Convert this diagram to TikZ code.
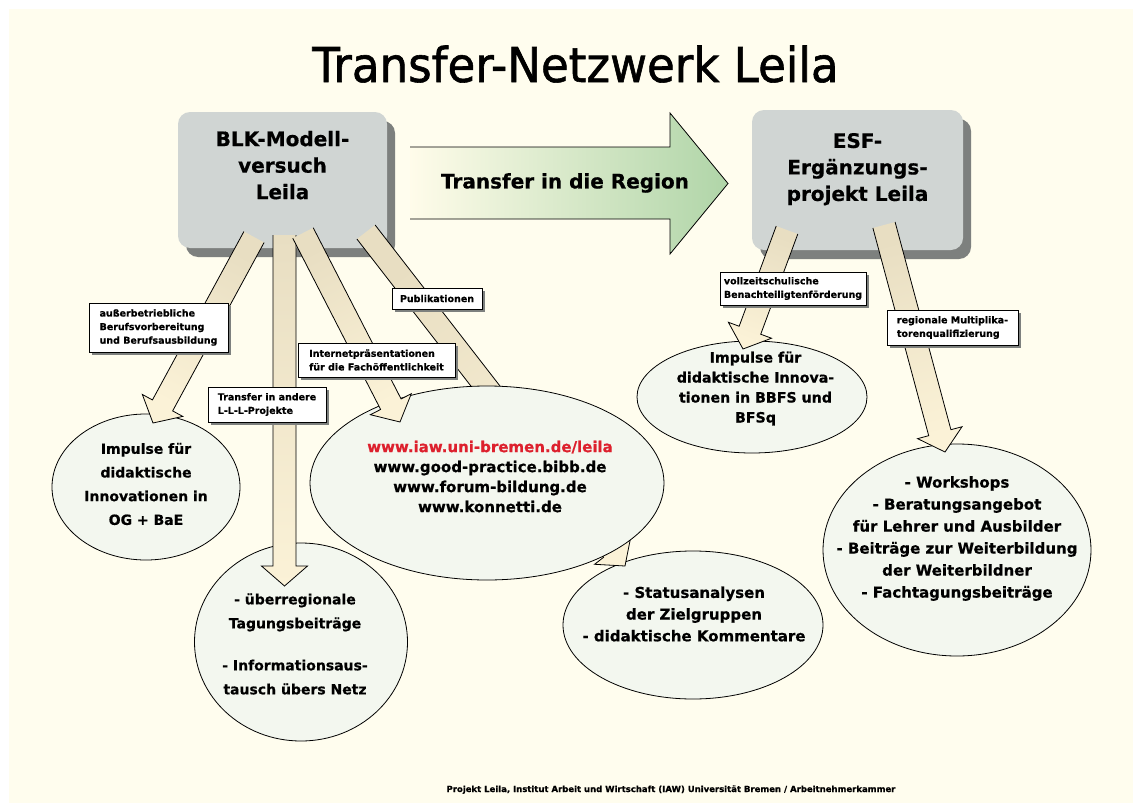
\documentclass[tikz,border=0pt]{standalone}
\usepackage{fontspec}
\setmainfont{DejaVu Sans}[BoldFeatures={FakeBold=0.6}]
\newfontfamily\titlefont{DejaVu Sans}[FakeStretch=0.94, FakeBold=1.2]
\usetikzlibrary{shapes,calc,shadows}
\definecolor{paper}{RGB}{255,253,238}
\definecolor{boxgray}{RGB}{208,213,211}
\definecolor{shadowgray}{RGB}{125,128,126}
\definecolor{blobfill}{RGB}{243,247,239}
\definecolor{fattail}{RGB}{232,222,194}
\definecolor{fattip}{RGB}{251,242,215}
\definecolor{transferleft}{RGB}{255,252,234}
\definecolor{transferright}{RGB}{176,213,168}
\definecolor{urlred}{RGB}{221,32,45}
\tikzstyle{block} = [rectangle, rounded corners=12pt, fill=boxgray, align=center,
font=\bfseries\fontsize{20}{26.5}\selectfont,
drop shadow={shadow xshift=8pt, shadow yshift=-9pt, fill=shadowgray, opacity=1}]
\tikzstyle{blob} = [ellipse, draw, fill=blobfill, line width=0.8pt, inner sep=0pt]
\tikzstyle{blobtext} = [align=center, inner sep=0pt, font=\bfseries\fontsize{15}{21}\selectfont]
\tikzstyle{tag} = [rectangle, draw, fill=white, line width=1pt, align=left, inner sep=2pt,
font=\bfseries\fontsize{9.5}{13.6}\selectfont,
drop shadow={shadow xshift=3pt, shadow yshift=-3pt, fill=shadowgray, opacity=1}]
\tikzstyle{fatfill} = [top color=fattip, bottom color=fattail]
\tikzstyle{fatline} = [draw, line width=0.8pt, line join=miter]
\newcommand{\shaftw}{11.5pt}
\newcommand{\headw}{23pt}
\newcommand{\headl}{20pt}
\newcommand{\fatarrow}[2]{%
  \pgfmathanglebetweenpoints{\pgfpointanchor{#1}{center}}{\pgfpointanchor{#2}{center}}%
  \pgfmathsetmacro{\fatangle}{\pgfmathresult-90}%
  \shade[fatfill, shading angle=\fatangle]
    ($(#1)!\shaftw!90:(#2)$) -- ($(#2)!\headl!(#1)!\shaftw!90:(#2)$) --
    ($(#2)!\headl!(#1)!\headw!90:(#2)$) -- (#2) --
    ($(#2)!\headl!(#1)!\headw!-90:(#2)$) -- ($(#2)!\headl!(#1)!\shaftw!-90:(#2)$) --
    ($(#1)!\shaftw!-90:(#2)$) -- cycle;
  \path[fatline]
    ($(#1)!\shaftw!90:(#2)$) -- ($(#2)!\headl!(#1)!\shaftw!90:(#2)$) --
    ($(#2)!\headl!(#1)!\headw!90:(#2)$) -- (#2) --
    ($(#2)!\headl!(#1)!\headw!-90:(#2)$) -- ($(#2)!\headl!(#1)!\shaftw!-90:(#2)$) --
    ($(#1)!\shaftw!-90:(#2)$);
}

\begin{document}
\begin{tikzpicture}[x=1pt, y=-1pt, font=\bfseries]
\useasboundingbox (0,0) rectangle (1133,803);
\fill[white] (0,0) rectangle (1133,803);
\fill[paper] (9,9) rectangle (1133,803);

% Place nodes
	\node [block, minimum width=209pt, minimum height=136pt, text depth=30pt] (blk) at (282.5,180) {BLK-Modell-\\versuch\\Leila};
	\node [block, minimum width=211pt, minimum height=140pt, text depth=26pt] (esf) at (857.5,180) {ESF-\\Ergänzungs-\\projekt Leila};
	\node [blob, minimum width=188pt, minimum height=146pt] (impOG)  at (146,487) {};
	\node [blob, minimum width=213pt, minimum height=198pt] (tagung) at (301,642) {};
	\node [blob, minimum width=260pt, minimum height=148pt] (status) at (693,625) {};
	\node [blob, minimum width=230pt, minimum height=112pt] (impBB)  at (752,397) {};
	\node [blob, minimum width=268pt, minimum height=212pt] (multi)  at (957,550) {};

% Draw edges
	\coordinate (pubS) at (366,232);   \coordinate (pubE) at (625,566);
	\coordinate (ogS) at (254,237);    \coordinate (ogE) at (153,423);
	\coordinate (lllS) at (284.5,235); \coordinate (lllE) at (284.5,586);
	\coordinate (netS) at (303,233);   \coordinate (netE) at (400,422);
	\coordinate (bbS) at (787,230);    \coordinate (bbE) at (743,349);
	\coordinate (multS) at (884,225);  \coordinate (multE) at (945,452);
	\fatarrow{pubS}{pubE}
	\node [blob, minimum width=354pt, minimum height=194pt] (web) at (487,483) {};
	\fatarrow{ogS}{ogE}
	\fatarrow{lllS}{lllE}
	\fatarrow{netS}{netE}
	\fatarrow{bbS}{bbE}
	\fatarrow{multS}{multE}

	\shade [left color=transferleft, right color=transferright] (410,147) -- (670,147) -- (670,113) -- (728,183.5) -- (670,254) -- (670,219) -- (410,219) -- cycle;
	\draw [line width=0.8pt] (410,147) -- (670,147) -- (670,113) -- (728,183.5) -- (670,254) -- (670,219) -- (410,219);
	\node [font=\bfseries\fontsize{20}{24}\selectfont] (transfer) at (565,183) {Transfer in die Region};

% Texts in the ellipses
	\node [blobtext, font=\bfseries\fontsize{14}{23.7}\selectfont] (impOGt) at (146,484) {Impulse für\\didaktische\\Innovationen in\\OG + BaE};
	\node [blobtext, font=\bfseries\fontsize{14}{24}\selectfont] (tagungt) at (295,644) {- überregionale\\Tagungsbeiträge\\[18pt]- Informationsaus-\\tausch übers Netz};
	\node [blobtext, font=\bfseries\fontsize{15}{20}\selectfont] (webt) at (490,476.5) {\textcolor{urlred}{www.iaw.uni-bremen.de/leila}\\www.good-practice.bibb.de\\www.forum-bildung.de\\www.konnetti.de};
	\node [blobtext, font=\bfseries\fontsize{15}{21.7}\selectfont] (statust) at (694,614) {- Statusanalysen\\der Zielgruppen\\- didaktische Kommentare};
	\node [blobtext, font=\bfseries\fontsize{14.2}{20}\selectfont] (impBBt) at (755.5,388.5) {Impulse für\\didaktische Innova-\\tionen in BBFS und\\BFSq};
	\node [blobtext, font=\bfseries\fontsize{15}{22}\selectfont] (multit) at (957,538.5) {- Workshops\\- Beratungsangebot\\für Lehrer und Ausbilder\\- Beiträge zur Weiterbildung\\der Weiterbildner\\- Fachtagungsbeiträge};

% Labels on the arrows
	\node [tag, minimum width=139pt, minimum height=49pt] (ogTag)   at (158.5,327.5) {außerbetriebliche\\Berufsvorbereitung\\und Berufsausbildung};
	\node [tag, minimum width=118pt, minimum height=35pt] (lllTag)  at (267,404.5) {Transfer in andere\\L-L-L-Projekte};
	\node [tag, minimum width=157pt, minimum height=34pt] (netTag)  at (376.5,360) {Internetpräsentationen\\für die Fachöffentlichkeit};
	\node [tag, minimum width=90pt, minimum height=21pt]  (pubTag)  at (437,298.5) {Publikationen};
	\node [tag, minimum width=146pt, minimum height=33pt] (bbTag)   at (793,288.5) {vollzeitschulische\\Benachteiligtenförderung};
	\node [tag, minimum width=131pt, minimum height=35pt] (multTag) at (952.5,327.5) {regionale Multiplika-\\torenqualifizierung};

	\node [font=\titlefont\fontsize{48}{48}\selectfont, anchor=base] (title) at (575.5,82) {Transfer-Netzwerk Leila};
	\node [font=\bfseries\fontsize{8.5}{9}\selectfont, anchor=base] (footer) at (671,792) {Projekt Leila, Institut Arbeit und Wirtschaft (IAW) Universität Bremen / Arbeitnehmerkammer};
\end{tikzpicture}
\end{document}
